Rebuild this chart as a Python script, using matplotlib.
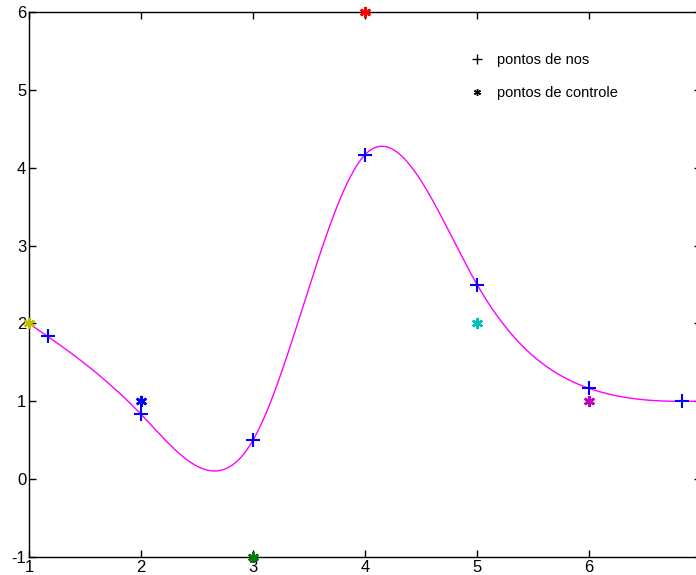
import matplotlib.pyplot as plt
import numpy as np
from matplotlib.lines import Line2D

plt.rcParams['font.family'] = ['Liberation Sans', 'DejaVu Sans']
plt.rcParams['axes.unicode_minus'] = False

# pontos de controle
ctrl_x = [1, 2, 3, 4, 5, 6, 7]
ctrl_y = [2, 1, -1, 6, 2, 1, 1]
ctrl_cores = [(0.75, 0.75, 0), (0, 0, 1), (0, 0.5, 0), (1, 0, 0),
              (0, 0.75, 0.75), (0.75, 0, 0.75), (0.25, 0.25, 0.25)]

# pontos de nos
nos_x = [1.167, 2, 3, 4, 5, 6, 6.833]
nos_y = [1.833, 0.833, 0.5, 4.167, 2.5, 1.167, 1.0]

# B-spline cubica uniforme com extremos repetidos
px = np.array([ctrl_x[0]] * 2 + ctrl_x + [ctrl_x[-1]] * 2, dtype=float)
py = np.array([ctrl_y[0]] * 2 + ctrl_y + [ctrl_y[-1]] * 2, dtype=float)
M = np.array([[-1, 3, -3, 1], [3, -6, 3, 0], [-3, 0, 3, 0], [1, 4, 1, 0]]) / 6.0
t = np.linspace(0, 1, 60)
T = np.vstack([t**3, t**2, t, np.ones_like(t)]).T
cx, cy = [], []
for i in range(len(px) - 3):
    B = T @ M
    cx.append(B @ px[i:i + 4])
    cy.append(B @ py[i:i + 4])
cx = np.concatenate(cx)
cy = np.concatenate(cy)

fig = plt.figure(figsize=(6.96, 5.75), dpi=100)
ax = fig.add_axes([29 / 696, 18 / 575, 672 / 696, 545 / 575])

ax.plot(cx, cy, color=(1, 0, 1), lw=1)
ax.plot(nos_x, nos_y, '+', color='b', ms=10, mew=1.5)
for x, y, c in zip(ctrl_x, ctrl_y, ctrl_cores):
    ax.plot(x, y, marker=(6, 2, 0), color=c, ms=8, mew=1.8, ls='none',
            clip_on=False, zorder=3)

ax.set_xlim(1, 7)
ax.set_ylim(-1, 6)
ax.set_xticks([1, 2, 3, 4, 5, 6])
ax.set_yticks([-1, 0, 1, 2, 3, 4, 5, 6])
ax.tick_params(direction='in', top=True, right=True, length=5, width=1,
               labelsize=12, pad=2)
for s in ax.spines.values():
    s.set_linewidth(1)

h1 = Line2D([], [], marker='+', color='k', ls='none', ms=7, mew=1)
h2 = Line2D([], [], marker=(6, 2, 0), color='k', ls='none', ms=5, mew=1)
ax.legend([h1, h2], ['pontos de nos', 'pontos de controle'], loc='upper left',
          bbox_to_anchor=(0.637, 0.948), frameon=False, fontsize=10.5,
          labelspacing=1.25, handlelength=1.0, handletextpad=0.85)

plt.savefig('out.png')
